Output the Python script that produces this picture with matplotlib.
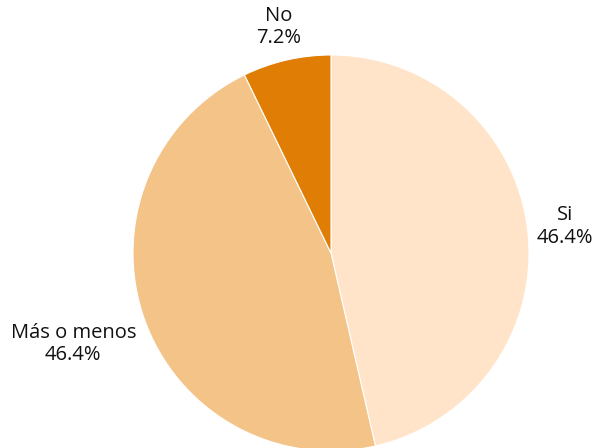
import numpy as np
import matplotlib
matplotlib.use("Agg")
import matplotlib.pyplot as plt

categories = ["Si", "Más o menos", "No"]
values = [46.4, 46.4, 7.2]
colors = ["#FFE4C9", "#F4C388", "#E07D05"]
label_dist = [1.19, 1.38, 1.17]

W, H = 593, 448
fig = plt.figure(figsize=(W / 100, H / 100), dpi=100)
cx, cy, r = 331, 448 - 253, 198
ax = fig.add_axes([(cx - r) / W, (cy - r) / H, 2 * r / W, 2 * r / H])

wedges, _ = ax.pie(values, colors=colors, startangle=90, counterclock=False,
                   radius=1.0, wedgeprops=dict(edgecolor="white", linewidth=0.8))
for w in wedges:
    w.set_clip_on(False)
ax.set_xlim(-1, 1)
ax.set_ylim(-1, 1)
ax.set_aspect("equal")
ax.axis("off")

for w, cat, v, d in zip(wedges, categories, values, label_dist):
    ang = np.deg2rad((w.theta1 + w.theta2) / 2)
    x, y = d * np.cos(ang), d * np.sin(ang)
    ax.text(x, y, f"{cat}\n{v:.1f}%", ha="center", va="center",
            fontsize=14.5, family=["Open Sans", "DejaVu Sans"], color="#111111",
            linespacing=1.15, clip_on=False)

fig.savefig("out.png", dpi=100, facecolor="white")
